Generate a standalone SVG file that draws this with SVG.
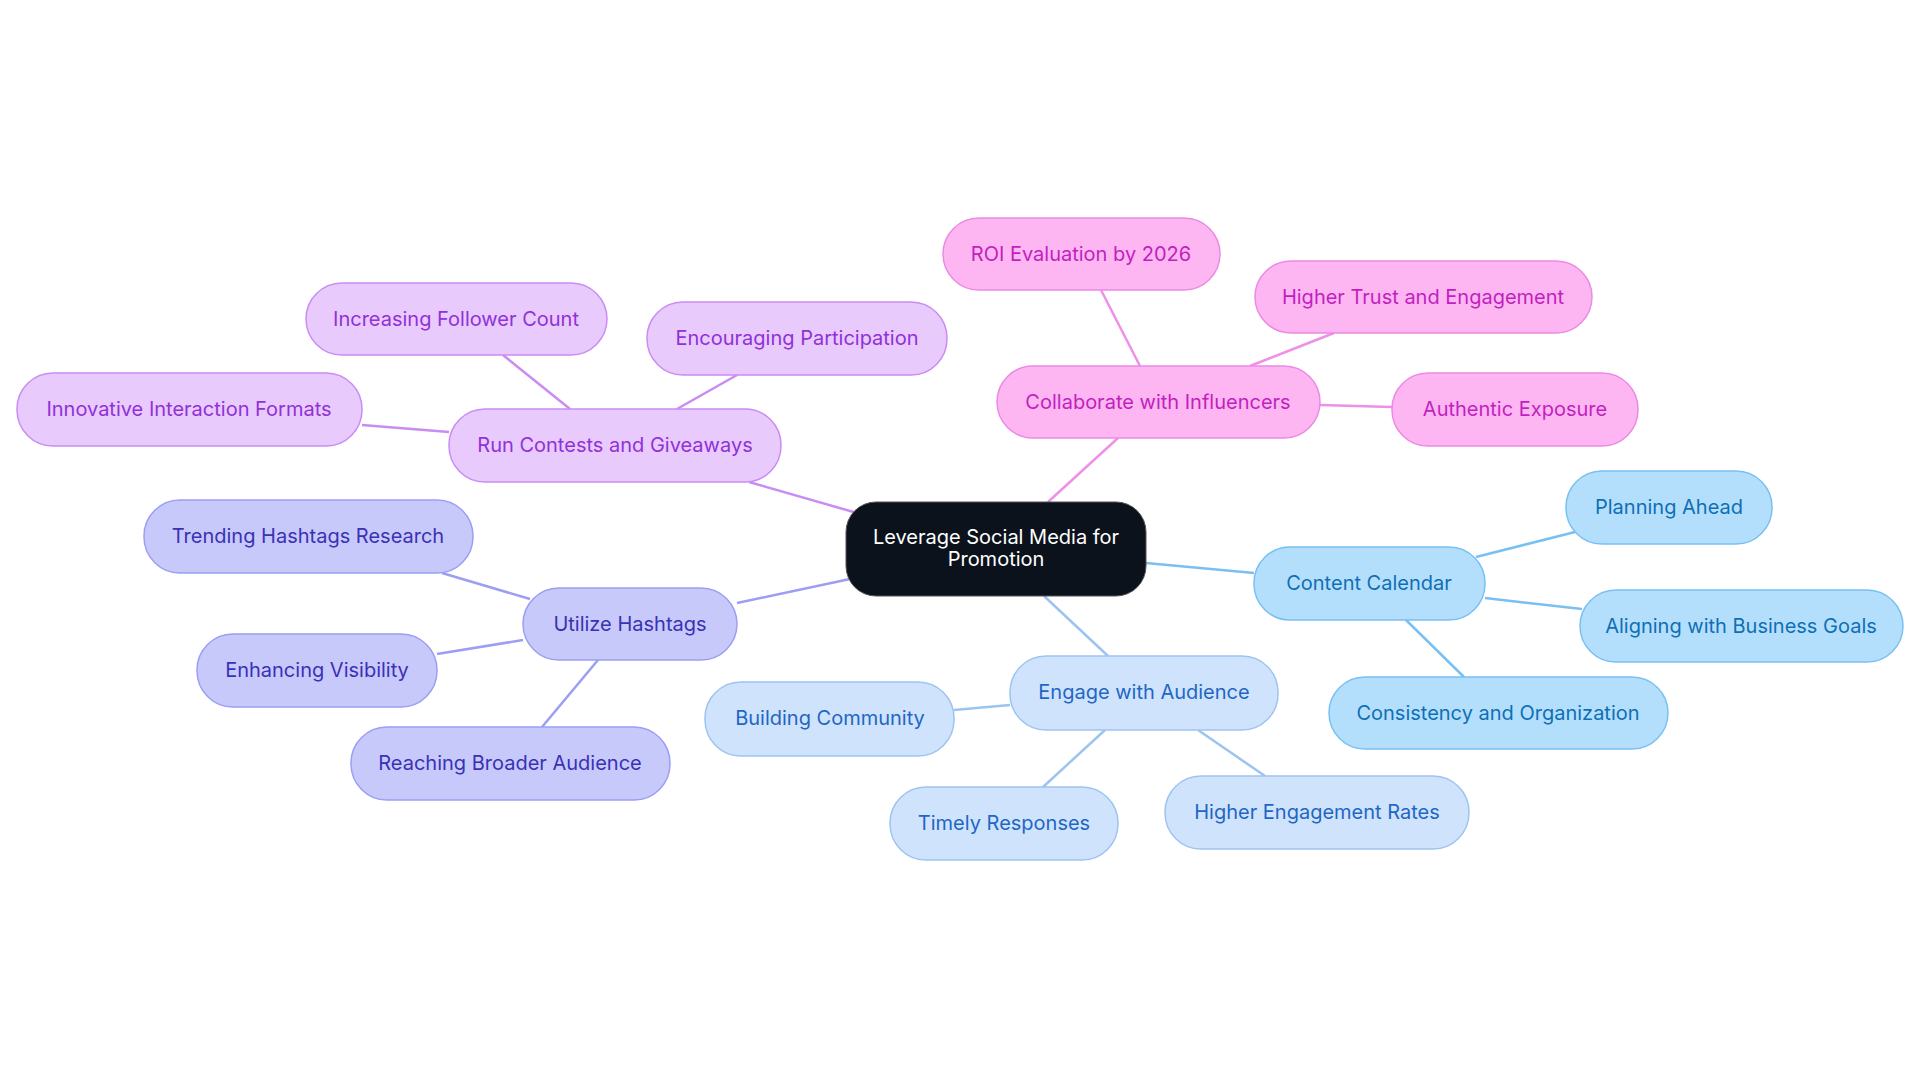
<svg xmlns="http://www.w3.org/2000/svg" width="1920" height="1083" viewBox="0 0 1920 1083">
<style>
text{font-family:Inter,"Noto Sans",sans-serif;font-size:20px;text-anchor:middle;dominant-baseline:central}
.e{stroke-width:2.5;fill:none}
.pk rect{fill:#fdb6f2;stroke:#ea8ae4;stroke-width:1.5}.pk text{fill:#c21fbf}
.pu rect{fill:#e8cafc;stroke:#c98cf3;stroke-width:1.5}.pu text{fill:#9131d8}
.in rect{fill:#c8c9fb;stroke:#9b9ef2;stroke-width:1.5}.in text{fill:#3a31b5}
.sk rect{fill:#b4dffc;stroke:#79c0f2;stroke-width:1.5}.sk text{fill:#0f6fb5}
.bl rect{fill:#d0e3fc;stroke:#9dc4f0;stroke-width:1.5}.bl text{fill:#1f67c4}
</style>
<rect width="1920" height="1083" fill="#fff"/>
<g id="connectors">
<g stroke="#f08fe8" class="e"><path d="M1048,502 L1118,438"/><path d="M1140,366 L1101,290"/><path d="M1250,366 L1334,333"/><path d="M1320,405 L1392,407"/></g>
<g stroke="#c98cf3" class="e"><path d="M857,513 L749,482"/><path d="M570,409 L503,355"/><path d="M677,409 L737,375"/><path d="M449,432 L362,425"/></g>
<g stroke="#9b9ef2" class="e"><path d="M850,579 L737,603"/><path d="M530,599 L442,573"/><path d="M523,640 L437,654"/><path d="M598,660 L542,727"/></g>
<g stroke="#79c0f2" class="e"><path d="M1146,563 L1254,573"/><path d="M1476,557 L1575,532"/><path d="M1485,598 L1582,609"/><path d="M1406,620 L1464,677"/></g>
<g stroke="#9dc4f0" class="e"><path d="M1044,596 L1108,656"/><path d="M1010,705 L954,710"/><path d="M1105,730 L1043,787"/><path d="M1198,730 L1265,776"/></g>
</g>
<g id="center"><rect x="846" y="502" width="300" height="94" rx="30" fill="#0b121c" stroke="#555" stroke-width="1"/><text x="996" y="537" fill="#fff">Leverage Social Media for</text><text x="996" y="559" fill="#fff">Promotion</text></g>
<g id="n-influencers" class="pk"><rect x="997" y="366" width="323" height="72" rx="36"/><text x="1158" y="402">Collaborate with Influencers</text></g>
<g id="n-roi" class="pk"><rect x="943" y="218" width="277" height="72" rx="36"/><text x="1081" y="254">ROI Evaluation by 2026</text></g>
<g id="n-trust" class="pk"><rect x="1255" y="261" width="337" height="72" rx="36"/><text x="1423" y="297">Higher Trust and Engagement</text></g>
<g id="n-authentic" class="pk"><rect x="1392" y="373" width="246" height="73" rx="36"/><text x="1515" y="409">Authentic Exposure</text></g>
<g id="n-contests" class="pu"><rect x="449" y="409" width="332" height="73" rx="36"/><text x="615" y="445">Run Contests and Giveaways</text></g>
<g id="n-follower" class="pu"><rect x="306" y="283" width="301" height="72" rx="36"/><text x="456" y="319">Increasing Follower Count</text></g>
<g id="n-particip" class="pu"><rect x="647" y="302" width="300" height="73" rx="36"/><text x="797" y="338">Encouraging Participation</text></g>
<g id="n-innov" class="pu"><rect x="17" y="373" width="345" height="73" rx="36"/><text x="189" y="409">Innovative Interaction Formats</text></g>
<g id="n-hashtags" class="in"><rect x="523" y="588" width="214" height="72" rx="36"/><text x="630" y="624">Utilize Hashtags</text></g>
<g id="n-trending" class="in"><rect x="144" y="500" width="329" height="73" rx="36"/><text x="308" y="536">Trending Hashtags Research</text></g>
<g id="n-visibility" class="in"><rect x="197" y="634" width="240" height="73" rx="36"/><text x="317" y="670">Enhancing Visibility</text></g>
<g id="n-broader" class="in"><rect x="351" y="727" width="319" height="73" rx="36"/><text x="510" y="763">Reaching Broader Audience</text></g>
<g id="n-calendar" class="sk"><rect x="1254" y="547" width="231" height="73" rx="36"/><text x="1369" y="583">Content Calendar</text></g>
<g id="n-planning" class="sk"><rect x="1566" y="471" width="206" height="73" rx="36"/><text x="1669" y="507">Planning Ahead</text></g>
<g id="n-aligning" class="sk"><rect x="1580" y="590" width="323" height="72" rx="36"/><text x="1741" y="626">Aligning with Business Goals</text></g>
<g id="n-consistency" class="sk"><rect x="1329" y="677" width="339" height="72" rx="36"/><text x="1498" y="713">Consistency and Organization</text></g>
<g id="n-engage" class="bl"><rect x="1010" y="656" width="268" height="74" rx="36"/><text x="1144" y="692">Engage with Audience</text></g>
<g id="n-community" class="bl"><rect x="705" y="682" width="249" height="74" rx="36"/><text x="830" y="718">Building Community</text></g>
<g id="n-timely" class="bl"><rect x="890" y="787" width="228" height="73" rx="36"/><text x="1004" y="823">Timely Responses</text></g>
<g id="n-rates" class="bl"><rect x="1165" y="776" width="304" height="73" rx="36"/><text x="1317" y="812">Higher Engagement Rates</text></g>
</svg>
